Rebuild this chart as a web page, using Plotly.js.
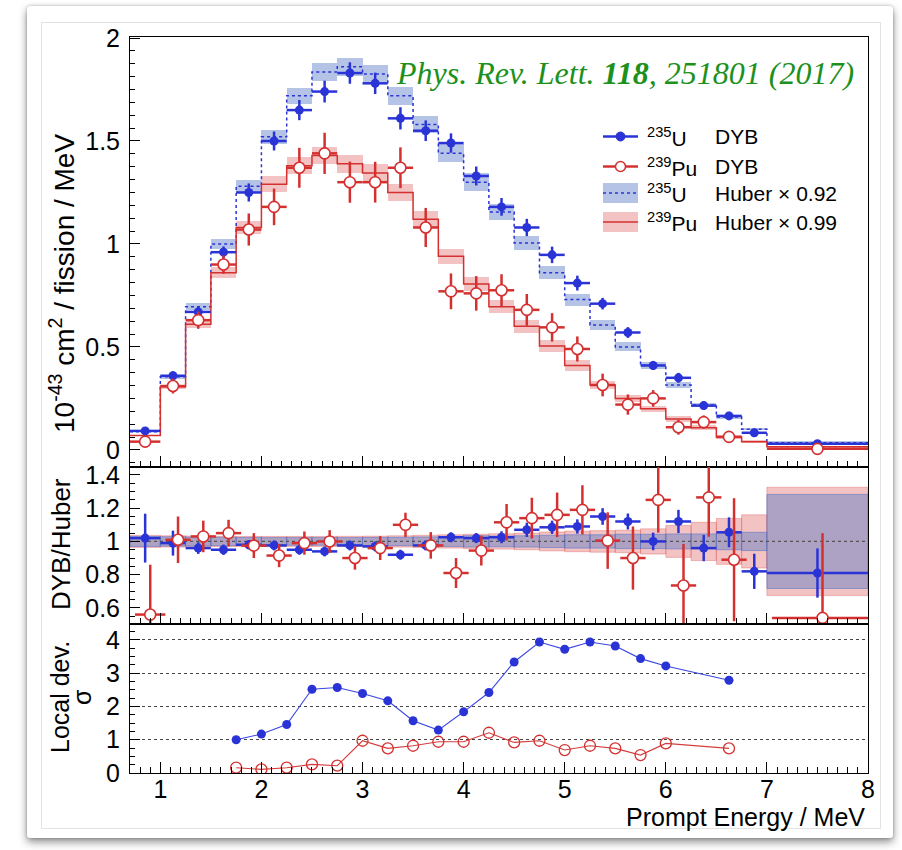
<!DOCTYPE html>
<html><head><meta charset="utf-8">
<script src="https://cdn.plot.ly/plotly-3.0.1.min.js"></script>
<style>
html,body{margin:0;padding:0;background:#fff;width:902px;height:850px;overflow:hidden;}
#card{position:absolute;left:27px;top:6px;width:866px;height:832px;background:#fff;box-shadow:0 4px 9px rgba(0,0,0,0.45),0 0 3px rgba(0,0,0,0.25);border-radius:3px;}
#inner{position:absolute;left:41px;top:22px;width:838px;height:805px;border:1px solid #e3e3e3;}
#plot{position:absolute;left:0;top:0;width:902px;height:850px;}
</style></head><body>
<div id="card"></div><div id="inner"></div><div id="plot"></div>
<script>
// ---------------- data ----------------
const binEdges = [0.7,1.0,1.25,1.5,1.75,2.0,2.25,2.5,2.75,3.0,3.25,3.5,3.75,4.0,4.25,4.5,4.75,5.0,5.25,5.5,5.75,6.0,6.25,6.5,6.75,7.0,8.0];

const dybU     = [0.092,0.36,0.67,0.96,1.25,1.50,1.65,1.74,1.83,1.78,1.61,1.55,1.49,1.33,1.18,1.08,0.947,0.81,0.71,0.57,0.41,0.35,0.215,0.165,0.083,0.03];
const dybUErr  = [0.01,0.022,0.027,0.028,0.044,0.046,0.049,0.053,0.052,0.052,0.054,0.05,0.047,0.046,0.043,0.042,0.04,0.036,0.028,0.026,0.022,0.024,0.02,0.02,0.016,0.01];
const huberU   = [0.088,0.355,0.695,1.0,1.28,1.52,1.72,1.835,1.86,1.825,1.72,1.58,1.44,1.30,1.155,1.005,0.86,0.73,0.607,0.50,0.41,0.315,0.218,0.16,0.10,0.035];
const relU     = [0.03,0.028,0.026,0.025,0.024,0.023,0.023,0.023,0.023,0.024,0.025,0.027,0.03,0.034,0.032,0.034,0.037,0.04,0.04,0.043,0.043,0.045,0.045,0.05,0.055,0.283];

const dybPu    = [0.04,0.31,0.63,0.90,1.07,1.18,1.37,1.44,1.30,1.30,1.37,1.08,0.77,0.76,0.775,0.68,0.595,0.49,0.315,0.22,0.25,0.11,0.135,0.063,null,0.005];
const dybPuErr = [0.01,0.036,0.042,0.045,0.078,0.089,0.097,0.10,0.10,0.099,0.099,0.095,0.087,0.084,0.078,0.077,0.069,0.061,0.055,0.049,0.04,0.036,0.032,0.02,null,0.01];
const huberPu  = [0.07,0.307,0.61,0.86,1.08,1.29,1.38,1.43,1.39,1.345,1.25,1.12,0.94,0.805,0.695,0.60,0.505,0.41,0.315,0.25,0.20,0.15,0.107,0.063,0.04,0.015];
const relPu    = [0.036,0.034,0.032,0.031,0.03,0.03,0.03,0.03,0.031,0.032,0.034,0.037,0.04,0.043,0.046,0.05,0.057,0.062,0.065,0.068,0.076,0.096,0.115,0.138,0.16,0.326];

const ratioU      = [1.02,0.99,0.96,0.95,0.98,0.976,0.95,0.94,0.976,0.97,0.92,0.976,1.025,1.02,1.025,1.07,1.085,1.09,1.15,1.12,1.0,1.12,0.96,1.055,0.82,0.81];
const ratioUErr   = [0.147,0.075,0.035,0.031,0.028,0.03,0.03,0.03,0.03,0.03,0.03,0.03,0.03,0.03,0.036,0.043,0.04,0.043,0.05,0.048,0.053,0.07,0.079,0.09,0.106,0.148];
const ratioPu     = [0.56,1.01,1.03,1.05,0.975,0.915,0.99,1.0,0.90,0.96,1.10,0.976,0.81,0.945,1.115,1.14,1.16,1.19,1.005,0.90,1.25,0.735,1.265,0.89,null,0.54];
const ratioPuErr  = [0.30,0.14,0.095,0.08,0.075,0.07,0.07,0.068,0.07,0.072,0.073,0.08,0.09,0.09,0.11,0.123,0.134,0.148,0.17,0.19,0.197,0.25,0.237,0.37,null,0.51];
const huberRef    = 1;      // DYB/Huber reference level
const puRatioShift = 0.05;  // Pu points drawn slightly shifted in ratio panel

const devE  = [1.75,2.0,2.25,2.5,2.75,3.0,3.25,3.5,3.75,4.0,4.25,4.5,4.75,5.0,5.25,5.5,5.75,6.0,6.625];
const devU  = [1.0,1.17,1.46,2.52,2.57,2.39,2.17,1.57,1.29,1.84,2.42,3.34,3.94,3.72,3.94,3.82,3.44,3.22,2.79];
const devPu = [0.16,0.11,0.16,0.26,0.22,0.97,0.74,0.82,0.94,0.94,1.21,0.92,0.97,0.69,0.82,0.74,0.54,0.89,0.74];

const legendIsotopes = ['<sup>235</sup>U','<sup>239</sup>Pu','<sup>235</sup>U','<sup>239</sup>Pu'];
const legendLabels   = ['DYB','DYB','Huber \u00d7 0.92','Huber \u00d7 0.99'];

// ---------------- style ----------------
const FONT = 'Liberation Sans, Arial, Helvetica, sans-serif';
const BLUE = 'rgb(42,52,214)';
const RED  = 'rgb(212,48,48)';
const BLUE_BAND = 'rgba(90,125,200,0.45)';
const RED_BAND  = 'rgba(220,80,80,0.35)';

const centers = binEdges.slice(0,-1).map((e,i)=>(e+binEdges[i+1])/2);
const halfW   = binEdges.slice(0,-1).map((e,i)=>(binEdges[i+1]-e)/2);
const stepY   = a => a.concat([a[a.length-1]]);

function band(vals, rel, color, lineColor, xa, ya){
  return {type:'bar', x:centers, width:halfW.map(h=>2*h),
    base: vals.map((v,i)=>v*(1-rel[i])), y: vals.map((v,i)=>2*v*rel[i]),
    marker:{color:color, line:{color:lineColor, width: lineColor?1:0}},
    xaxis:xa, yaxis:ya, showlegend:false, hoverinfo:'skip'};
}
function pts(x, y, ex, ey, color, open, size, xa, ya, name){
  return {type:'scatter', mode:'markers', name:name, x:x, y:y,
    error_x:{type:'data', array:ex, color:color, thickness:2.5, width:0},
    error_y:{type:'data', array:ey, color:color, thickness:2.5, width:0},
    marker: open ? {symbol:'circle', color:'#fff', size:size, line:{color:color, width:1.6}}
                 : {symbol:'circle', color:color, size:size},
    xaxis:xa, yaxis:ya, showlegend:false};
}

const traces = [
  band(huberPu, relPu, RED_BAND, null, 'x', 'y'),
  band(huberU,  relU,  BLUE_BAND, null, 'x', 'y'),
  {type:'scatter', mode:'lines', x:binEdges, y:stepY(huberU), line:{shape:'hv', color:BLUE, width:1.5, dash:'dot'}, xaxis:'x', yaxis:'y', showlegend:false},
  {type:'scatter', mode:'lines', x:binEdges, y:stepY(huberPu), line:{shape:'hv', color:RED, width:1.5}, xaxis:'x', yaxis:'y', showlegend:false},
  pts(centers, dybU, halfW, dybUErr, BLUE, false, 9, 'x', 'y', '235U DYB'),
  pts(centers, dybPu, halfW, dybPuErr, RED, true, 11, 'x', 'y', '239Pu DYB'),

  band(centers.map(()=>huberRef), relPu, RED_BAND, 'rgba(220,80,80,0.35)', 'x2', 'y2'),
  band(centers.map(()=>huberRef), relU, BLUE_BAND, 'rgba(80,115,200,0.55)', 'x2', 'y2'),
  {type:'scatter', mode:'lines', x:[binEdges[0], binEdges[binEdges.length-1]], y:[huberRef, huberRef], line:{color:'#555', width:1.2, dash:'dot'}, xaxis:'x2', yaxis:'y2', showlegend:false, hoverinfo:'skip'},
  pts(centers, ratioU, halfW, ratioUErr, BLUE, false, 9, 'x2', 'y2', '235U ratio'),
  pts(centers.map(c=>c+puRatioShift), ratioPu, halfW, ratioPuErr, RED, true, 11, 'x2', 'y2', '239Pu ratio'),

  {type:'scatter', mode:'lines+markers', x:devE, y:devU, line:{color:'rgb(60,70,225)', width:1.1}, marker:{color:BLUE, size:9}, xaxis:'x3', yaxis:'y3', showlegend:false},
  {type:'scatter', mode:'lines+markers', x:devE, y:devPu, line:{color:'rgb(215,60,60)', width:1.1}, marker:{symbol:'circle-open', color:RED, size:11, line:{width:1.3}}, xaxis:'x3', yaxis:'y3', showlegend:false}
];

// ---------------- layout ----------------
const L=130, R=868, T=37, B=773;
const px = x => (x-L)/(R-L);
const py = y => (B-y)/(B-T);

const tickFont = {family:FONT, size:25, color:'#000'};
const xCommon = {range:[0.7,8], showline:true, mirror:true, linecolor:'#000', linewidth:1,
  ticks:'inside', ticklen:11, tickwidth:1, tickcolor:'#000', dtick:1, tick0:0,
  minor:{ticks:'inside', ticklen:6, dtick:0.1, tick0:0, tickcolor:'#000', tickwidth:1, showgrid:false},
  showgrid:false, zeroline:false, tickfont:tickFont, fixedrange:true};
const yCommon = {showline:true, mirror:true, linecolor:'#000', linewidth:1,
  ticks:'inside', ticklen:10, tickwidth:1, tickcolor:'#000', tick0:0,
  showgrid:false, zeroline:false, tickfont:tickFont, ticklabelstandoff:4, fixedrange:true};

const annotations = [];
function txt(x, y, text, opts){ annotations.push(Object.assign({xref:'paper', yref:'paper', x:px(x), y:py(y), text:text, showarrow:false, xanchor:'center', yanchor:'middle', font:{family:FONT, size:25, color:'#000'}}, opts||{})); }

txt(62, 284, '10<sup>-43</sup> cm<sup>2</sup> / fission / MeV', {textangle:-90, font:{family:FONT, size:28, color:'#000'}});
txt(61, 544, 'DYB/Huber', {textangle:-90, font:{family:FONT, size:26, color:'#000'}});
txt(60, 697, 'Local dev.', {textangle:-90});
txt(82, 697, '\u03c3', {textangle:-90});
txt(867, 817, 'Prompt Energy / MeV', {xanchor:'right'});
txt(856, 73, '<i>Phys. Rev. Lett. <b>118</b>, 251801 (2017)</i>', {xanchor:'right', font:{family:'Liberation Serif, Times New Roman, serif', size:32, color:'rgb(28,145,28)'}});

const legY = [136.5, 166.5, 193, 222];
legendIsotopes.forEach((t,i)=>{
  txt(645, legY[i], t, {xanchor:'left', font:{family:FONT, size:21, color:'#000'}});
  txt(713, legY[i], legendLabels[i], {xanchor:'left', font:{family:FONT, size:21, color:'#000'}});
});

const shapes = [];
function pshape(o){ shapes.push(Object.assign({xref:'paper', yref:'paper'}, o)); }
// legend swatches
pshape({type:'line', x0:px(603), x1:px(638), y0:py(legY[0]), y1:py(legY[0]), line:{color:BLUE, width:2.5}});
pshape({type:'circle', x0:px(616), x1:px(625), y0:py(legY[0]-4.5), y1:py(legY[0]+4.5), fillcolor:BLUE, line:{color:BLUE, width:1}});
pshape({type:'line', x0:px(603), x1:px(638), y0:py(legY[1]), y1:py(legY[1]), line:{color:RED, width:2.5}});
pshape({type:'circle', x0:px(615.5), x1:px(625.5), y0:py(legY[1]-5), y1:py(legY[1]+5), fillcolor:'#fff', line:{color:RED, width:1.5}});
pshape({type:'rect', x0:px(603), x1:px(638), y0:py(legY[2]-10), y1:py(legY[2]+10), fillcolor:BLUE_BAND, line:{width:0}});
pshape({type:'line', x0:px(603), x1:px(638), y0:py(legY[2]), y1:py(legY[2]), line:{color:BLUE, width:1.5, dash:'dot'}});
pshape({type:'rect', x0:px(603), x1:px(638), y0:py(legY[3]-10), y1:py(legY[3]+10), fillcolor:RED_BAND, line:{width:0}});
pshape({type:'line', x0:px(603), x1:px(638), y0:py(legY[3]), y1:py(legY[3]), line:{color:RED, width:1.5}});

const layout = {
  width:902, height:850,
  margin:{l:L, r:902-R, t:T, b:850-B, pad:0},
  paper_bgcolor:'rgba(0,0,0,0)', plot_bgcolor:'#fff',
  barmode:'overlay', bargap:0, showlegend:false,
  font:{family:FONT, color:'#000'},
  xaxis: Object.assign({}, xCommon, {anchor:'y', showticklabels:false}),
  xaxis2: Object.assign({}, xCommon, {anchor:'y2', matches:'x', showticklabels:false}),
  xaxis3: Object.assign({}, xCommon, {anchor:'y3', matches:'x', showticklabels:true, ticklabelstandoff:-6}),
  yaxis: Object.assign({}, yCommon, {anchor:'x', domain:[0.4158,1], range:[-0.083,2.005], dtick:0.5,
    minor:{ticks:'inside', ticklen:5, dtick:0.0625, tick0:0, tickcolor:'#000', tickwidth:1}}),
  yaxis2: Object.assign({}, yCommon, {anchor:'x2', domain:[0.2024,0.4158], range:[0.503,1.448], dtick:0.2,
    minor:{ticks:'inside', ticklen:5, dtick:0.05, tick0:0, tickcolor:'#000', tickwidth:1}}),
  yaxis3: Object.assign({}, yCommon, {anchor:'x3', domain:[0,0.2024], range:[0,4.48], dtick:1,
    showgrid:true, gridcolor:'#444', griddash:'dot', gridwidth:1,
    minor:{ticks:'inside', ticklen:5, dtick:0.25, tick0:0, tickcolor:'#000', tickwidth:1}}),
  annotations:annotations, shapes:shapes
};

Plotly.newPlot('plot', traces, layout, {displayModeBar:false, staticPlot:true});
</script></body></html>
